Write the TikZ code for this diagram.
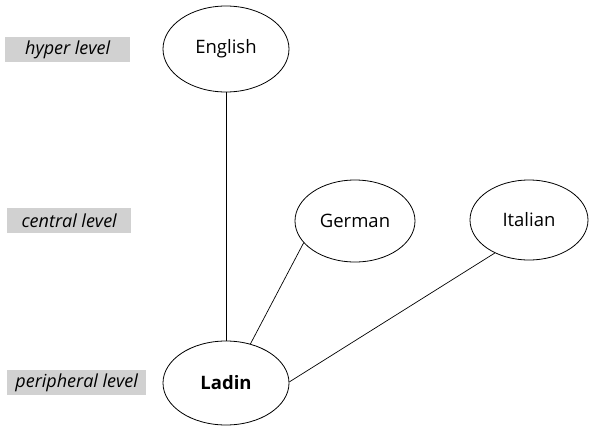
\documentclass[tikz,border=0pt]{standalone}
\usepackage{fontspec}
\setmainfont{Open Sans}
\usetikzlibrary{shapes.geometric}
\begin{document}
\begin{tikzpicture}[x=1pt,y=-1pt,
  lang/.style={draw, ellipse, line width=0.8pt, inner sep=0pt, font=\fontsize{18.5}{22}\selectfont},
  lvl/.style={fill=black!18, anchor=west, inner sep=0pt, font=\fontsize{18}{21}\selectfont\itshape},
  conn/.style={line width=0.7pt}]
\useasboundingbox (0,0) rectangle (590,426);
\node[lang, minimum width=126pt, minimum height=86pt] (en) at (226,49) {English};
\node[lang, minimum width=120pt, minimum height=82pt] (de) at (355,221) {German};
\node[lang, minimum width=118pt, minimum height=80pt] (it) at (529,220) {Italian};
\node[lang, minimum width=126pt, minimum height=84pt, font=\fontsize{18.5}{22}\selectfont\bfseries] (la) at (226,383) {Ladin};
\node[lvl, minimum width=125pt, minimum height=25pt] (h) at (5,49.5) {hyper level};
\node[lvl, minimum width=124pt, minimum height=25pt] (c) at (7,220.5) {central level};
\node[lvl, minimum width=139pt, minimum height=25pt] (p) at (7,382.5) {peripheral level};
\draw[conn] (en.south) -- (la.north);
\draw[conn] (de.203) -- (la.58);
\draw[conn] (it.224) -- (la.1);
\end{tikzpicture}
\end{document}
